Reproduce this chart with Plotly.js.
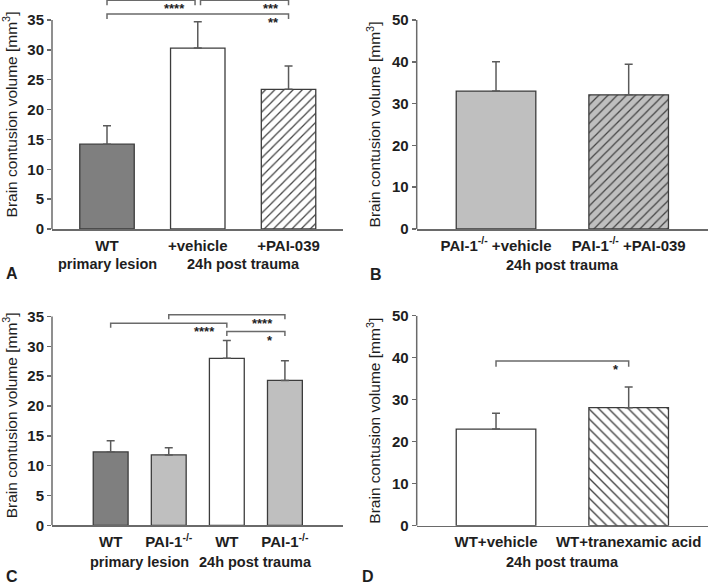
<!DOCTYPE html>
<html><head><meta charset="utf-8">
<script src="https://cdn.plot.ly/plotly-3.0.1.min.js"></script>
<style>html,body{margin:0;padding:0;background:#fff;} #chart{width:709px;height:587px;}</style>
</head><body><div id="chart"></div>
<script>
// ---------- Panel A ----------
const aLabels = ['WT', '+vehicle', '+PAI-039'];
const aMeans = [14.2, 30.3, 23.4];
const aErr = [3.1, 4.4, 3.9];
const aFill = ['#7f7f7f', '#ffffff', '#ffffff'];
const aHatch = ['', '', '/'];
const aGroupText = ['primary lesion', '24h post trauma'];
const aGroupAt = [0, 1.5];
const aSigFrom = [0, 1, 0];
const aSigTo = [1, 2, 2];
const aSigLevel = [38.3, 38.3, 36.0];
const aSigText = ['****', '***', '**'];
const aTicks = [0, 5, 10, 15, 20, 25, 30, 35];

// ---------- Panel B ----------
const bLabels = ['PAI-1<sup>-/-</sup> +vehicle', 'PAI-1<sup>-/-</sup> +PAI-039'];
const bMeans = [33.0, 32.1];
const bErr = [7.0, 7.3];
const bFill = ['#bfbfbf', '#bfbfbf'];
const bHatch = ['', '/'];
const bGroupText = ['24h post trauma'];
const bGroupAt = [0.5];
const bSigFrom = [];
const bSigTo = [];
const bSigLevel = [];
const bSigText = [];
const bTicks = [0, 10, 20, 30, 40, 50];

// ---------- Panel C ----------
const cLabels = ['WT', 'PAI-1<sup>-/-</sup>', 'WT', 'PAI-1<sup>-/-</sup>'];
const cMeans = [12.3, 11.8, 28.0, 24.3];
const cErr = [1.9, 1.2, 3.0, 3.3];
const cFill = ['#7f7f7f', '#bfbfbf', '#ffffff', '#bfbfbf'];
const cHatch = ['', '', '', ''];
const cGroupText = ['primary lesion', '24h post trauma'];
const cGroupAt = [0.5, 2.5];
const cSigFrom = [0, 1, 2];
const cSigTo = [2, 3, 3];
const cSigLevel = [33.9, 35.3, 32.5];
const cSigText = ['****', '****', '*'];
const cTicks = [0, 5, 10, 15, 20, 25, 30, 35];

// ---------- Panel D ----------
const dLabels = ['WT+vehicle', 'WT+tranexamic acid'];
const dMeans = [23.0, 28.1];
const dErr = [3.8, 4.9];
const dFill = ['#ffffff', '#ffffff'];
const dHatch = ['', '\\'];
const dGroupText = ['24h post trauma'];
const dGroupAt = [0.5];
const dSigFrom = [0];
const dSigTo = [1];
const dSigLevel = [39.2];
const dSigText = ['*'];
const dTicks = [0, 10, 20, 30, 40, 50];

const W = 709, H = 587;
const FONT = 'Liberation Sans, Arial, Helvetica, sans-serif';
const AX = '#6a6a6a';
const TXT = '#1e1e1e';
const py = px => 1 - px / H;
const pxX = px => px / W;

const panels = [
  {id: '', letter: 'A', labels: aLabels, means: aMeans, err: aErr, fill: aFill, hatch: aHatch,
   gText: aGroupText, gAt: aGroupAt, sF: aSigFrom, sT: aSigTo, sL: aSigLevel, sX: aSigText, ticks: aTicks,
   xdom: [52, 343], ydom: [0, 229], yrange: [0, 229 / 5.971], xrange: [-0.606, 2.6], hsize: 6.5,
   gY: 264, letterPos: [4, 273.5], drop: 0.84, starShift: -8, titleStandoff: 9},
  {id: '2', letter: 'B', labels: bLabels, means: bMeans, err: bErr, fill: bFill, hatch: bHatch,
   gText: bGroupText, gAt: bGroupAt, sF: bSigFrom, sT: bSigTo, sL: bSigLevel, sX: bSigText, ticks: bTicks,
   xdom: [416.7, 708], ydom: [20, 229], yrange: [0, 50], xrange: [-0.598, 1.598], hsize: 6.5,
   gY: 265, letterPos: [368, 274.5], drop: 1.2, starShift: -8, titleStandoff: 7},
  {id: '3', letter: 'C', labels: cLabels, means: cMeans, err: cErr, fill: cFill, hatch: cHatch,
   gText: cGroupText, gAt: cGroupAt, sF: cSigFrom, sT: cSigTo, sL: cSigLevel, sX: cSigText, ticks: cTicks,
   xdom: [52, 343], ydom: [305.3, 525.3], yrange: [0, 220 / 5.963], xrange: [-1.01, 4.0], hsize: 6.5,
   gY: 561.7, letterPos: [4, 576], drop: 0.75, starShift: -10, titleStandoff: 9},
  {id: '4', letter: 'D', labels: dLabels, means: dMeans, err: dErr, fill: dFill, hatch: dHatch,
   gText: dGroupText, gAt: dGroupAt, sF: dSigFrom, sT: dSigTo, sL: dSigLevel, sX: dSigText, ticks: dTicks,
   xdom: [416.7, 708], ydom: [315.7, 525.7], yrange: [0, 50], xrange: [-0.598, 1.598], hsize: 7,
   gY: 561.7, letterPos: [360, 576.5], drop: 1.35, starShift: -8, titleStandoff: 7}
];

const data = [];
const layout = {
  width: W, height: H, margin: {l: 0, r: 0, t: 0, b: 0},
  paper_bgcolor: '#ffffff', plot_bgcolor: '#ffffff', showlegend: false,
  font: {family: FONT, color: TXT},
  shapes: [], annotations: []
};

panels.forEach(p => {
  const xa = 'x' + p.id, ya = 'y' + p.id;
  const xs = p.means.map((_, i) => i);
  data.push({
    type: 'bar', x: xs, y: p.means, xaxis: xa, yaxis: ya, width: 0.6,
    marker: {
      color: p.fill,
      line: {color: '#3c3c3c', width: 1.3},
      pattern: {shape: p.hatch, fgcolor: p.fill.map(() => '#2a2a2a'), fgopacity: 1,
                size: p.hsize, solidity: 0.2, fillmode: 'overlay'}
    },
    error_y: {type: 'data', symmetric: false, array: p.err, arrayminus: p.err.map(() => 0),
              color: '#5a5a5a', thickness: 1.5, width: 4},
    hoverinfo: 'none'
  });
  const xKey = 'xaxis' + p.id, yKey = 'yaxis' + p.id;
  layout[xKey] = {
    domain: [pxX(p.xdom[0]), pxX(p.xdom[1])], anchor: ya, range: p.xrange,
    tickvals: xs, ticktext: p.labels, ticks: '', showgrid: false, zeroline: false,
    showline: true, linecolor: AX, linewidth: 1.5, ticklabelstandoff: 2,
    tickfont: {family: FONT, size: 15, weight: 'bold', color: TXT}, fixedrange: true
  };
  layout[yKey] = {
    domain: [py(p.ydom[1]), py(p.ydom[0])], anchor: xa, range: p.yrange,
    tickvals: p.ticks, ticks: 'outside', ticklen: 4, tickwidth: 1.5, tickcolor: AX,
    showgrid: false, zeroline: false, showline: false,
    tickfont: {family: FONT, size: 15, weight: 'bold', color: TXT},
    title: {text: 'Brain contusion volume [mm<sup>3</sup>]', standoff: p.titleStandoff,
            font: {family: FONT, size: 15.5, color: TXT}},
    fixedrange: true
  };
  // y axis line from 0 to top tick
  layout.shapes.push({type: 'line', xref: xa + ' domain', yref: ya, x0: 0, x1: 0,
    y0: 0, y1: p.ticks[p.ticks.length - 1], line: {color: AX, width: 1.5}});
  // group labels (second line)
  p.gText.forEach((t, i) => {
    layout.annotations.push({xref: xa, yref: 'paper', x: p.gAt[i], y: py(p.gY), yanchor: 'middle',
      xanchor: 'center', text: t, showarrow: false, font: {family: FONT, size: 14.5, weight: 'bold', color: TXT}});
  });
  // significance brackets
  p.sF.forEach((f, i) => {
    const t = p.sT[i], lv = p.sL[i];
    let x0 = f, x1 = t;
    p.sF.forEach((f2, j) => {
      if (j === i || p.sL[j] !== lv) return;
      if (p.sT[j] === f) x0 = f + 0.03;
      if (f2 === t) x1 = t - 0.03;
    });
    layout.shapes.push({type: 'path', xref: xa, yref: ya,
      path: `M ${x0},${lv - p.drop} L ${x0},${lv} L ${x1},${lv} L ${x1},${lv - p.drop}`,
      line: {color: AX, width: 1.5}});
    layout.annotations.push({xref: xa, yref: ya, x: x1, y: lv, xanchor: 'right', yanchor: 'top',
      xshift: p.starShift, yshift: 1, text: p.sX[i], showarrow: false,
      font: {family: FONT, size: 13, weight: 'bold', color: TXT}});
  });
  // panel letter
  layout.annotations.push({xref: 'paper', yref: 'paper', x: pxX(p.letterPos[0]), y: py(p.letterPos[1]),
    xanchor: 'left', yanchor: 'middle', text: p.letter, showarrow: false,
    font: {family: FONT, size: 16, weight: 'bold', color: TXT}});
});

Plotly.newPlot('chart', data, layout, {displayModeBar: false, staticPlot: true});
</script>
</body></html>
